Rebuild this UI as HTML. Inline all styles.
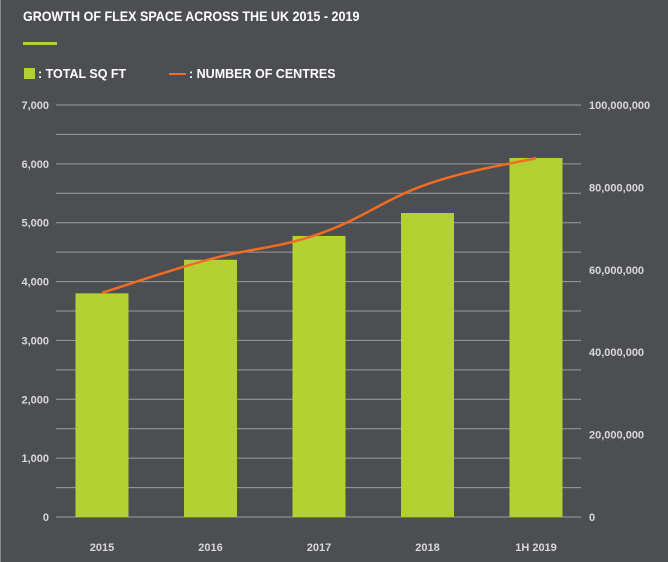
<!DOCTYPE html>
<html><head><meta charset="utf-8"><style>
body{margin:0;background:#4d4e52;}
#wrap{position:relative;width:668px;height:562px;background:#4d4e52;overflow:hidden;font-family:"Liberation Sans",Arial,sans-serif;border-left:1px solid #8a8a8e;box-sizing:border-box}
svg text{font-family:"Liberation Sans",Arial,sans-serif;font-weight:bold;}
</style></head><body>
<div id="wrap">
<svg id="chart" width="668" height="562">
<text x="22" y="21" fill="#fff" font-size="13.5" transform="scale(0.93,1)" style="transform-origin:22px 21px">GROWTH OF FLEX SPACE ACROSS THE UK 2015 - 2019</text>
<rect x="22" y="42" width="34" height="3" fill="#b4d133"/>
<g>
<rect x="23" y="68" width="11" height="11" fill="#b4d133"/>
<text x="37" y="78" fill="#fff" font-size="12.5">: TOTAL SQ FT</text>
</g>
<g>
<rect x="168" y="73" width="17" height="2" fill="#f26d21"/>
<text x="188" y="78" fill="#fff" font-size="12.5">: NUMBER OF CENTRES</text>
</g>
<g id="grid"></g>
<g id="bars"></g>
<g id="line"></g>
<g id="axes"></g>
</svg>
</div>
<script>
const categories = ["2015","2016","2017","2018","1H 2019"];
const sqftValues = [3800, 4370, 4775, 5165, 6100];
const centresValues = [54400000, 62600000, 68700000, 80800000, 87100000];
const leftTicks = [0,1000,2000,3000,4000,5000,6000,7000];
const rightTicks = [0,20000000,40000000,60000000,80000000,100000000];

const NS="http://www.w3.org/2000/svg";
const x0=55, x1=580, yTop=105, yBot=517;
const band=108.5;
const xc=i=>101+band*i;
const yL=v=>yBot-(v/7000)*(yBot-yTop);
const yR=v=>yBot-(v/100000000)*(yBot-yTop);
const fmt=v=>v.toString().replace(/\B(?=(\d{3})+(?!\d))/g,",");
function mk(tag,attrs,parent){const e=document.createElementNS(NS,tag);for(const k in attrs)e.setAttribute(k,attrs[k]);parent.appendChild(e);return e;}

const grid=document.getElementById('grid');
for(let v=0;v<=7000;v+=500){
  const l=mk('line',{x1:x0,x2:x1,y1:yL(v),y2:yL(v),stroke:'#9c9ca0','stroke-width':1},grid);
  
  
}
const axes=document.getElementById('axes');
leftTicks.forEach(v=>{
  const t=mk('text',{x:48,y:yL(v)+4,'text-anchor':'end',fill:'#d8d8dc','font-size':11},axes);
  t.textContent=fmt(v);
  
  
});
rightTicks.forEach(v=>{
  const t=mk('text',{x:588,y:yR(v)+4,fill:'#d8d8dc','font-size':11},axes);
  t.textContent=fmt(v);
  
  
});
categories.forEach((c,i)=>{
  const t=mk('text',{x:xc(i),y:551,'text-anchor':'middle',fill:'#d8d8dc','font-size':11},axes);
  t.textContent=c;
  
  
});
const bars=document.getElementById('bars');
const bw=53;
sqftValues.forEach((v,i)=>{
  const r=mk('rect',{x:xc(i)-bw/2,y:yL(v),width:bw,height:yBot-yL(v),fill:'#b4d133'},bars);
  
  
});
const pts=centresValues.map((v,i)=>[xc(i),yR(v)]);
let d='M'+pts[0][0]+','+pts[0][1];
for(let i=0;i<pts.length-1;i++){
  const p0=pts[Math.max(0,i-1)],p1=pts[i],p2=pts[i+1],p3=pts[Math.min(pts.length-1,i+2)];
  const t=0.2;
  d+=' C'+(p1[0]+(p2[0]-p0[0])*t)+','+(p1[1]+(p2[1]-p0[1])*t)+' '+(p2[0]-(p3[0]-p1[0])*t)+','+(p2[1]-(p3[1]-p1[1])*t)+' '+p2[0]+','+p2[1];
}
const path=mk('path',{d:d,fill:'none',stroke:'#f26d21','stroke-width':2.5},document.getElementById('line'));


</script>
</body></html>
